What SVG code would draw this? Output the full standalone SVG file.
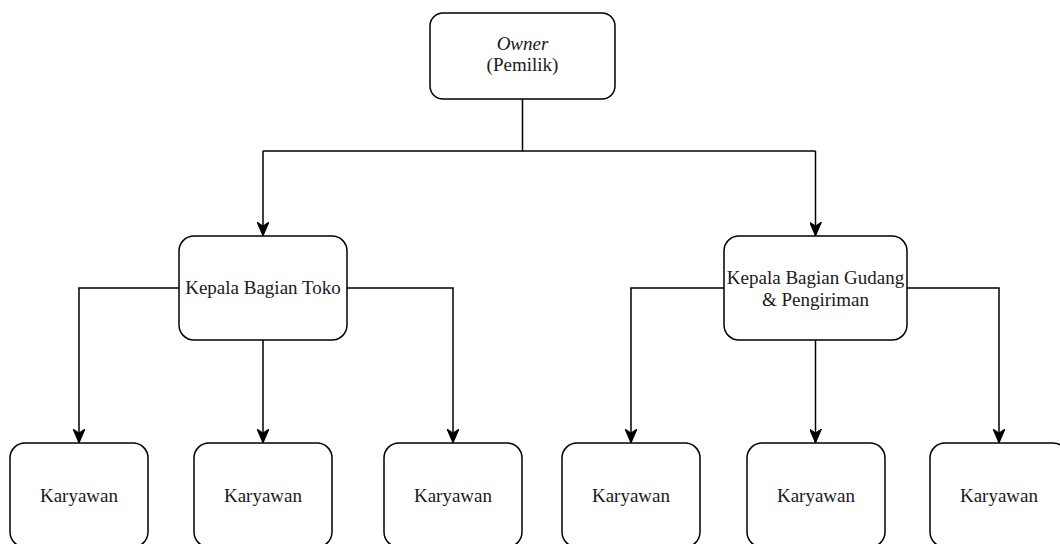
<svg xmlns="http://www.w3.org/2000/svg" width="1060" height="544" viewBox="0 0 1060 544">
  <style>
    .box { fill: #ffffff; stroke: #000000; stroke-width: 1.5; }
    .lbl { font-family: "Liberation Serif", "Times New Roman", serif; font-size: 19px; fill: #1a1a1a; text-anchor: middle; }
    .edge { fill: none; stroke: #000000; stroke-width: 1.5; marker-end: url(#arrow); }
    .plain { fill: none; stroke: #000000; stroke-width: 1.5; }
  </style>
  <defs>
    <marker id="arrow" viewBox="0 0 14 12" refX="13" refY="6" markerWidth="14" markerHeight="12" markerUnits="userSpaceOnUse" orient="auto">
      <path d="M0,0 L14,6 L0,12 L4,6 Z" fill="#000000" stroke="#000000" stroke-width="1"/>
    </marker>
  </defs>
  <rect width="1060" height="544" fill="#ffffff"/>

  <!-- connectors -->
  <g id="connectors">
    <path class="plain" d="M522.5,99 V151 H263"/>
    <path class="edge" d="M263,151 V235"/>
    <path class="plain" d="M522.5,151 H815.5"/>
    <path class="edge" d="M815.5,151 V235"/>

    <path class="edge" d="M179,288 H79 V442"/>
    <path class="edge" d="M263,340 V442"/>
    <path class="edge" d="M347,288 H453 V442"/>

    <path class="edge" d="M724,288 H631 V442"/>
    <path class="edge" d="M815.5,340 V442"/>
    <path class="edge" d="M907,288 H999 V442"/>
  </g>

  <!-- top -->
  <g id="owner">
    <rect class="box" x="430" y="13" width="185" height="86" rx="13" ry="13"/>
    <text class="lbl" x="522.5" y="50" font-style="italic">Owner</text>
    <text class="lbl" x="522.5" y="71">(Pemilik)</text>
  </g>

  <!-- middle -->
  <g id="kepala-toko">
    <rect class="box" x="179" y="236" width="168" height="104" rx="15" ry="15"/>
    <text class="lbl" x="263" y="294">Kepala Bagian Toko</text>
  </g>
  <g id="kepala-gudang">
    <rect class="box" x="724" y="236" width="183" height="104" rx="15" ry="15"/>
    <text class="lbl" x="815.5" y="284">Kepala Bagian Gudang</text>
    <text class="lbl" x="815.5" y="306">&amp; Pengiriman</text>
  </g>

  <!-- bottom -->
  <g id="karyawan-1">
    <rect class="box" x="10" y="443" width="138" height="104" rx="15" ry="15"/>
    <text class="lbl" x="79" y="502">Karyawan</text>
  </g>
  <g id="karyawan-2">
    <rect class="box" x="194" y="443" width="138" height="104" rx="15" ry="15"/>
    <text class="lbl" x="263" y="502">Karyawan</text>
  </g>
  <g id="karyawan-3">
    <rect class="box" x="384" y="443" width="138" height="104" rx="15" ry="15"/>
    <text class="lbl" x="453" y="502">Karyawan</text>
  </g>
  <g id="karyawan-4">
    <rect class="box" x="562" y="443" width="138" height="104" rx="15" ry="15"/>
    <text class="lbl" x="631" y="502">Karyawan</text>
  </g>
  <g id="karyawan-5">
    <rect class="box" x="747" y="443" width="138" height="104" rx="15" ry="15"/>
    <text class="lbl" x="816" y="502">Karyawan</text>
  </g>
  <g id="karyawan-6">
    <rect class="box" x="930" y="443" width="138" height="104" rx="15" ry="15"/>
    <text class="lbl" x="999" y="502">Karyawan</text>
  </g>
</svg>
